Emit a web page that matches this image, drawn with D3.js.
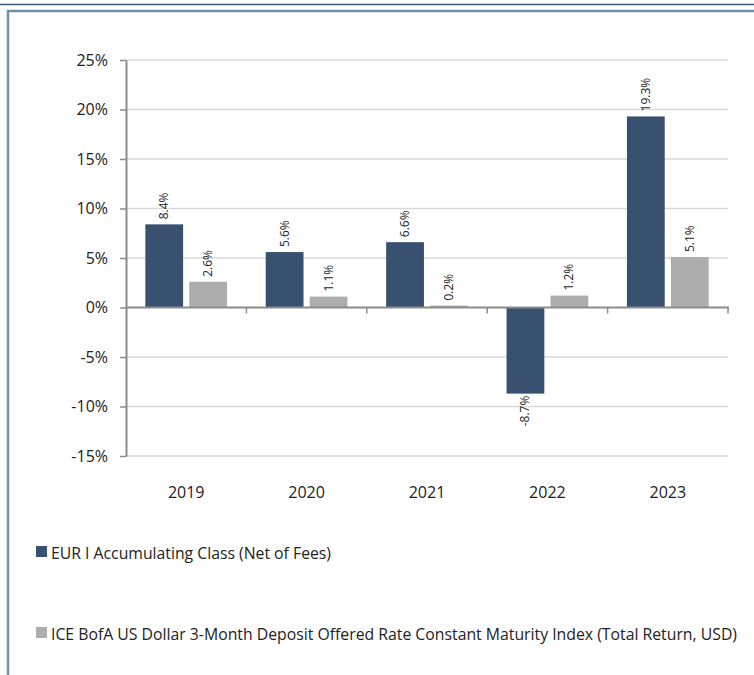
<!DOCTYPE html>
<html>
<head>
<meta charset="utf-8">
<script src="https://cdn.jsdelivr.net/npm/d3@7"></script>
<style>
  body { margin: 0; background: #fff; }
  svg text { font-family: "Open Sans", sans-serif; fill: #222; }
</style>
</head>
<body>
<div id="chart"></div>
<script>
var years = ["2019", "2020", "2021", "2022", "2023"];
var seriesNames = ["EUR I Accumulating Class (Net of Fees)",
  "ICE BofA US Dollar 3-Month Deposit Offered Rate Constant Maturity Index (Total Return, USD)"];
var fundValues = [8.4, 5.6, 6.6, -8.7, 19.3];
var indexValues = [2.6, 1.1, 0.2, 1.2, 5.1];
var yTicks = [-15, -10, -5, 0, 5, 10, 15, 20, 25];
var colors = ["#395170", "#adadad"];
var legendWidths = [280, 686];

var width = 754, height = 675;

var svg = d3.select("#chart").append("svg")
    .attr("width", width)
    .attr("height", height);

// frame lines
svg.append("line")
    .attr("x1", 0).attr("x2", width).attr("y1", 4.5).attr("y2", 4.5)
    .style("stroke", "#3d566f").style("stroke-width", 1.5);
svg.append("path")
    .attr("d", "M8," + height + "V11H" + width)
    .style("fill", "none").style("stroke", "#7090b0").style("stroke-width", 2.5);

var x = d3.scaleBand().domain(years).range([126, 728]);
var x1 = d3.scaleBand().domain([0, 1]).range([0, x.bandwidth()])
    .paddingInner(0.14).paddingOuter(0.44);
var y = d3.scaleLinear().domain([-15, 25]).range([456, 60]);

// gridlines
svg.append("g").selectAll("line")
    .data(yTicks.filter(function(d) { return d !== 0; }))
  .enter().append("line")
    .attr("x1", 126).attr("x2", 728)
    .attr("y1", function(d) { return y(d); })
    .attr("y2", function(d) { return y(d); })
    .style("stroke", "#d9d9d9").style("stroke-width", 1.5);

var data = [];
years.forEach(function(yr, i) {
  data.push({year: yr, s: 0, v: fundValues[i]});
  data.push({year: yr, s: 1, v: indexValues[i]});
});

svg.append("g").selectAll("rect")
    .data(data)
  .enter().append("rect")
    .attr("x", function(d) { return x(d.year) + x1(d.s); })
    .attr("width", x1.bandwidth())
    .attr("y", function(d) { return y(Math.max(0, d.v)); })
    .attr("height", function(d) { return Math.abs(y(d.v) - y(0)); })
    .style("fill", function(d) { return colors[d.s]; });

// value labels
svg.append("g").selectAll("text")
    .data(data)
  .enter().append("text")
    .attr("transform", function(d) {
      var cx = x(d.year) + x1(d.s) + x1.bandwidth() / 2 + 4;
      var cy = d.v >= 0 ? y(d.v) - 5 : y(d.v) + 2;
      return "translate(" + cx + "," + cy + ") rotate(-90)";
    })
    .attr("text-anchor", function(d) { return d.v >= 0 ? "start" : "end"; })
    .style("font-size", "12px")
    .text(function(d) { return d.v.toFixed(1) + "%"; });

// y axis
var yAxis = svg.append("g")
    .attr("transform", "translate(126,0)")
    .call(d3.axisLeft(y).tickValues(yTicks).tickSize(6).tickSizeOuter(0)
      .tickFormat(function(d) { return d + "%"; }));
yAxis.select(".domain").style("stroke", "#8c8c8c").style("stroke-width", 2);
yAxis.selectAll(".tick line").style("stroke", "#8c8c8c").style("stroke-width", 1.5);
yAxis.selectAll(".tick text").attr("x", -18).style("font-size", "16px").style("font-family", null);

// x axis line with band boundary ticks
var xAxis = svg.append("g").attr("transform", "translate(0," + y(0) + ")");
xAxis.append("line").attr("x1", 126).attr("x2", 729)
    .style("stroke", "#8c8c8c").style("stroke-width", 2);
xAxis.selectAll(".bt")
    .data(years.slice(1).concat(["end"]))
  .enter().append("line")
    .attr("x1", function(d) { return d === "end" ? 728 : x(d); })
    .attr("x2", function(d) { return d === "end" ? 728 : x(d); })
    .attr("y1", 0).attr("y2", 6)
    .style("stroke", "#8c8c8c").style("stroke-width", 1.5);

svg.append("g").selectAll("text")
    .data(years)
  .enter().append("text")
    .attr("x", function(d) { return x(d) + x.bandwidth() / 2; })
    .attr("y", 498)
    .attr("text-anchor", "middle")
    .style("font-size", "16px")
    .text(function(d) { return d; });

// legend
var legend = svg.append("g").selectAll("g")
    .data(seriesNames)
  .enter().append("g")
    .attr("transform", function(d, i) { return "translate(36," + (546 + i * 81) + ")"; });
legend.append("rect")
    .attr("width", 11).attr("height", 11)
    .style("fill", function(d, i) { return colors[i]; });
legend.append("text")
    .attr("x", 15).attr("y", 13)
    .attr("textLength", function(d, i) { return legendWidths[i]; })
    .attr("lengthAdjust", "spacingAndGlyphs")
    .style("font-size", "16px")
    .text(function(d) { return d; });
</script>
</body>
</html>
